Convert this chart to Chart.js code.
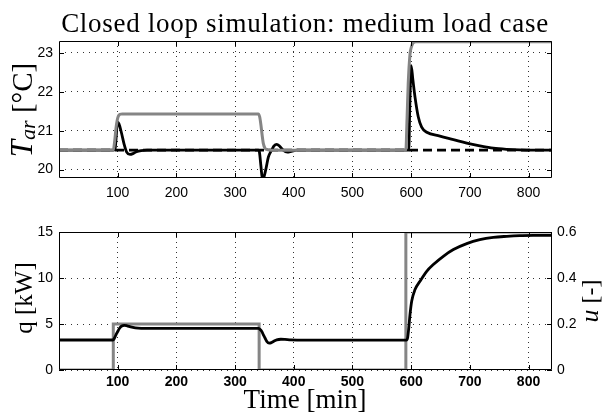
<!DOCTYPE html>
<html>
<head>
<meta charset="utf-8">
<script src="https://cdn.jsdelivr.net/npm/chart.js@4.4.1/dist/chart.umd.min.js"></script>
<style>
  html, body { margin: 0; padding: 0; background: #fff; }
  #wrap { position: relative; width: 605px; height: 412px; }
  canvas { position: absolute; left: 0; }
  #top { top: 0; }
  #bottom { top: 206px; }
</style>
</head>
<body>
<div id="wrap">
  <canvas id="top" width="605" height="206"></canvas>
  <canvas id="bottom" width="605" height="206"></canvas>
</div>
<script>
// Closed loop simulation, medium load case: air temperature (top) and heating power / valve (bottom)

const TIME_TICKS = [100, 200, 300, 400, 500, 600, 700, 800];
const TEMP_TICKS = [20, 21, 22, 23];
const POWER_TICKS = [0, 5, 10, 15];
const U_TICKS = [0, 0.2, 0.4, 0.6];

// T_ar, simulated air temperature [°C]
const tairTime = [0, 92, 95.5, 97.5, 99.3, 102, 106.8, 111, 115.3, 121, 126, 132, 140, 150,
  340, 341.5, 344, 347, 350, 353, 356.7, 362.4, 366, 371, 376, 382, 389, 396, 405, 420,
  596, 597.5, 599, 600, 603, 606.6, 612.2, 617.9, 626.5, 649, 672, 694.7, 717, 740, 763, 785, 810, 840];
const tairValues = [20.5, 20.5, 20.52, 20.85, 21.22, 21.18, 20.92, 20.65, 20.45, 20.39, 20.41, 20.46, 20.49, 20.5,
  20.5, 20.45, 20.1, 19.72, 19.85, 20.05, 20.32, 20.5, 20.6, 20.65, 20.6, 20.5, 20.45, 20.47, 20.5, 20.5,
  20.5, 21.5, 22.4, 22.67, 22.3, 21.86, 21.35, 21.09, 20.96, 20.86, 20.77, 20.68, 20.61, 20.55, 20.52, 20.505, 20.5, 20.5];

// grey curve in the top panel
const tgreyTime = [0, 92.5, 95, 97, 99, 101, 104, 108, 339.5, 342, 344, 346, 348, 351, 356, 362,
  591, 593, 595, 598, 600.5, 603.7, 608, 840];
const tgreyValues = [20.5, 20.5, 20.75, 21.05, 21.25, 21.37, 21.42, 21.43, 21.43, 21.35, 21.15, 20.9, 20.68, 20.55, 20.51, 20.5,
  20.5, 21.3, 22.2, 22.95, 23.15, 23.26, 23.28, 23.28];

// setpoint (dashed)
const setpointTime = [0, 840];
const setpointValues = [20.5, 20.5];

// q, heating power [kW]
const qTime = [0, 91.5, 93, 95.5, 98, 101, 104, 107, 111, 116, 122, 130, 140, 160,
  340, 342, 345.5, 348, 351, 354, 358, 362, 366, 371, 378, 385, 395, 420,
  592, 594, 596, 598, 601, 606.6, 615, 626.5, 637.8, 654.8, 672, 694.7, 717, 740, 763, 785, 810, 840];
const qValues = [3.26, 3.26, 3.3, 3.6, 3.95, 4.3, 4.6, 4.78, 4.86, 4.8, 4.68, 4.58, 4.53, 4.52,
  4.52, 4.45, 4.2, 3.85, 3.48, 3.12, 2.93, 2.98, 3.12, 3.28, 3.34, 3.32, 3.27, 3.25,
  3.25, 3.5, 4.6, 6.0, 7.5, 8.74, 9.64, 10.73, 11.46, 12.36, 13.09, 13.74, 14.17, 14.42, 14.53, 14.6, 14.63, 14.64];

// u, control signal [-]
const uTime = [0, 92.5, 92.5, 341, 341, 591, 591, 840];
const uValues = [0, 0, 0.2, 0.2, 0, 0, 0.6, 0.6];

const pts = (ts, vs) => ts.map((t, i) => ({ x: t, y: vs[i] }));
const fixTicks = list => scale => { scale.ticks = list.map(v => ({ value: v })); };

const GREY = '#858585';
const GRID = 'rgba(0,0,0,0.8)';
const TICK_FONT = { family: '"Liberation Sans", Arial, sans-serif', size: 14 };
const SERIF = '"Liberation Serif", "Times New Roman", serif';

// draws a row of text pieces centred on (x, y), optionally rotated to read bottom-to-top
function drawRun(ctx, x, y, pieces, rotate, spacing) {
  ctx.save();
  ctx.translate(x, y);
  if (rotate) ctx.rotate(-Math.PI / 2);
  if (spacing && 'letterSpacing' in ctx) ctx.letterSpacing = spacing;
  let total = 0;
  pieces.forEach(p => {
    ctx.font = p.font;
    p.w = ctx.measureText(p.text).width;
    total += p.w;
  });
  let cx = -total / 2;
  ctx.textAlign = 'left';
  ctx.textBaseline = 'alphabetic';
  ctx.fillStyle = '#000';
  pieces.forEach(p => {
    ctx.font = p.font;
    ctx.fillText(p.text, cx, p.dy || 0);
    cx += p.w;
  });
  ctx.restore();
}

// box round the plot with inward tick marks on all four sides
const framePlugin = {
  id: 'frame',
  afterDatasetsDraw(chart) {
    const { ctx, chartArea: a, scales } = chart;
    const len = 5;
    ctx.save();
    ctx.strokeStyle = '#000';
    ctx.lineWidth = 1;
    ctx.beginPath();
    ctx.rect(a.left + 0.5, a.top + 0.5, a.right - a.left - 1, a.bottom - a.top - 1);
    TIME_TICKS.forEach(v => {
      const px = Math.round(scales.x.getPixelForValue(v)) + 0.5;
      ctx.moveTo(px, a.bottom); ctx.lineTo(px, a.bottom - len);
      ctx.moveTo(px, a.top); ctx.lineTo(px, a.top + len);
    });
    scales.y.ticks.forEach(t => {
      const py = Math.round(scales.y.getPixelForValue(t.value)) + 0.5;
      ctx.moveTo(a.left, py); ctx.lineTo(a.left + len, py);
      ctx.moveTo(a.right, py); ctx.lineTo(a.right - len, py);
    });
    ctx.stroke();
    ctx.restore();
  }
};

const topLabels = {
  id: 'topLabels',
  afterDraw(chart) {
    const ctx = chart.ctx;
    drawRun(ctx, 305, 31.5, [{ text: 'Closed loop simulation: medium load case', font: '27px ' + SERIF }], false, '0.7px');
    drawRun(ctx, 32, 110, [
      { text: 'T', font: 'italic 31px ' + SERIF },
      { text: 'ar', font: 'italic 22px ' + SERIF, dy: 3 },
      { text: ' [°C]', font: '29px ' + SERIF }
    ], true);
  }
};

const bottomLabels = {
  id: 'bottomLabels',
  afterDraw(chart) {
    const ctx = chart.ctx;
    drawRun(ctx, 32, 92, [{ text: 'q [kW]', font: '25px ' + SERIF }], true);
    drawRun(ctx, 598, 95, [
      { text: 'u', font: 'italic 26px ' + SERIF },
      { text: ' [-]', font: '24px ' + SERIF }
    ], true);
    drawRun(ctx, 305, 202, [{ text: 'Time [min]', font: '27px ' + SERIF }], false);
  }
};

const baseOptions = {
  responsive: false,
  animation: false,
  devicePixelRatio: 1,
  events: [],
  elements: { point: { radius: 0 } },
  plugins: { legend: { display: false }, tooltip: { enabled: false }, title: { display: false } }
};

function timeAxis(height, bold, pad) {
  return {
    type: 'linear',
    min: 0,
    max: 840,
    afterFit: s => { s.height = height; },
    afterBuildTicks: fixTicks(TIME_TICKS),
    ticks: {
      color: '#000',
      font: Object.assign({}, TICK_FONT, bold ? { weight: 'bold' } : {}),
      padding: pad,
      maxRotation: 0,
      autoSkip: false,
      callback: v => String(v)
    },
    grid: { color: GRID, lineWidth: 1, drawTicks: false },
    border: { display: false, dash: [1, 4] }
  };
}

new Chart(document.getElementById('top'), {
  type: 'line',
  data: {
    datasets: [
      { data: pts(tgreyTime, tgreyValues), borderColor: GREY, borderWidth: 3, cubicInterpolationMode: 'monotone' },
      { data: pts(tairTime, tairValues), borderColor: '#000', borderWidth: 2.8, cubicInterpolationMode: 'monotone' },
      { data: pts(setpointTime, setpointValues), borderColor: '#000', borderWidth: 2.6, borderDash: [9, 5] }
    ]
  },
  options: Object.assign({}, baseOptions, {
    layout: { padding: { top: 41, right: 53, left: 0, bottom: 0 } },
    scales: {
      x: timeAxis(28, false, 7),
      y: {
        min: 19.785,
        max: 23.3,
        afterFit: s => { s.width = 59; },
        afterBuildTicks: fixTicks(TEMP_TICKS),
        ticks: { color: '#000', font: TICK_FONT, padding: 6, callback: v => String(v) },
        grid: { color: GRID, lineWidth: 1, drawTicks: false },
        border: { display: false, dash: [1, 5] }
      }
    }
  }),
  plugins: [framePlugin, topLabels]
});

new Chart(document.getElementById('bottom'), {
  type: 'line',
  data: {
    datasets: [
      { data: pts(qTime, qValues), yAxisID: 'y', borderColor: '#000', borderWidth: 2.8, cubicInterpolationMode: 'monotone' },
      { data: pts(uTime, uValues), yAxisID: 'y1', borderColor: GREY, borderWidth: 3, tension: 0 }
    ]
  },
  options: Object.assign({}, baseOptions, {
    layout: { padding: { top: 26, right: 0, left: 0, bottom: 0 } },
    scales: {
      x: timeAxis(42, true, 4),
      y: {
        position: 'left',
        min: 0,
        max: 15,
        afterFit: s => { s.width = 59; },
        afterBuildTicks: fixTicks(POWER_TICKS),
        ticks: { color: '#000', font: TICK_FONT, padding: 6, callback: v => String(v) },
        grid: { color: GRID, lineWidth: 1, drawTicks: false },
        border: { display: false, dash: [1, 5] }
      },
      y1: {
        position: 'right',
        min: 0,
        max: 0.6,
        afterFit: s => { s.width = 53; },
        afterBuildTicks: fixTicks(U_TICKS),
        ticks: { color: '#000', font: TICK_FONT, padding: 5, callback: v => String(v) },
        grid: { display: false, drawTicks: false },
        border: { display: false }
      }
    }
  }),
  plugins: [framePlugin, bottomLabels]
});
</script>
</body>
</html>
